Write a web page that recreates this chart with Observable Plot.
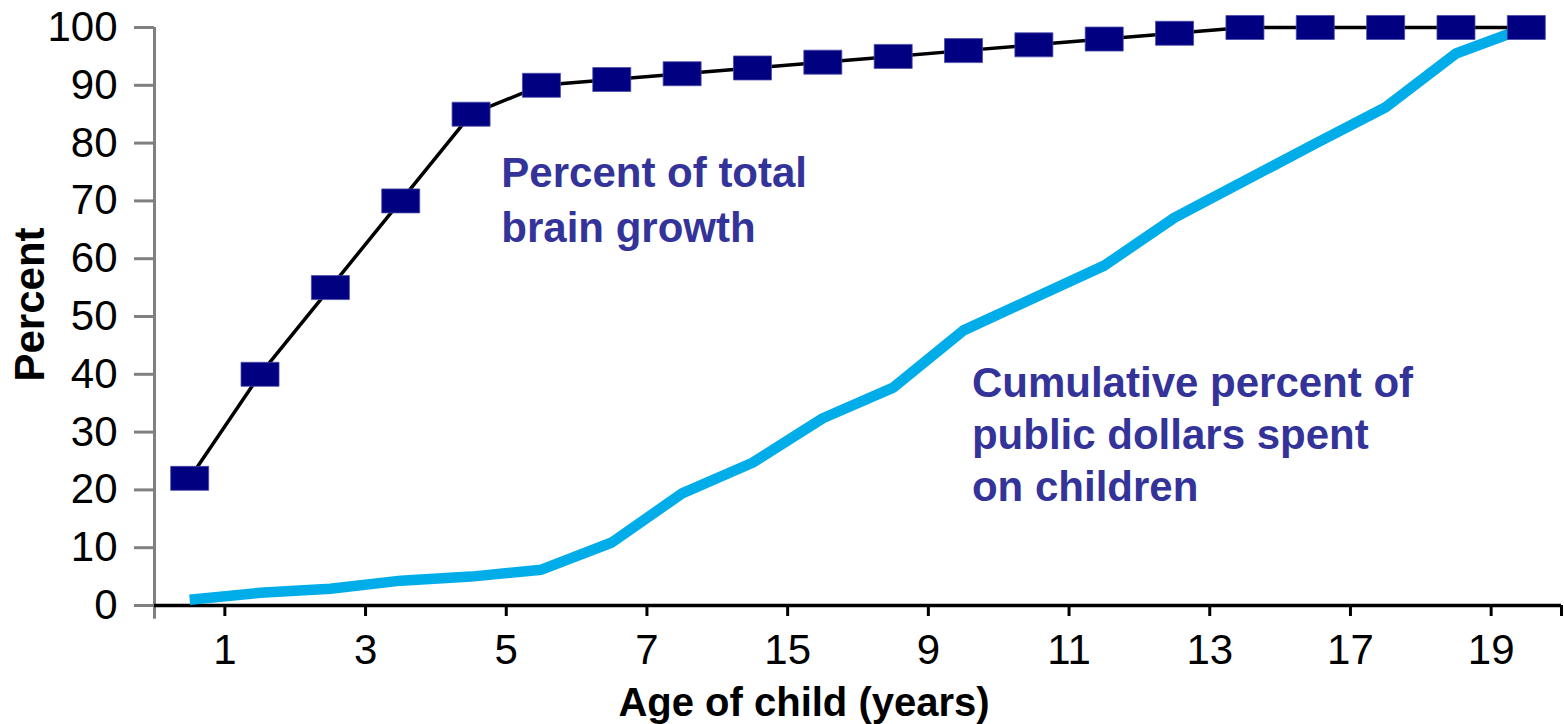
<!DOCTYPE html>
<html>
<head>
<meta charset="utf-8">
<script src="https://cdn.jsdelivr.net/npm/d3@7"></script>
<script src="https://cdn.jsdelivr.net/npm/@observablehq/plot@0.6"></script>
<style>
  html, body { margin: 0; padding: 0; background: #fff; }
  #chart svg { display: block; }
</style>
</head>
<body>
<div id="chart"></div>
<script>
// Category index of each plotted age group (20 groups)
const ageIndex = [1, 2, 3, 4, 5, 6, 7, 8, 9, 10, 11, 12, 13, 14, 15, 16, 17, 18, 19, 20];
// Percent of total brain growth
const brainGrowth = [22, 40, 55, 70, 85, 90, 91, 92, 93, 94, 95, 96, 97, 98, 99, 100, 100, 100, 100, 100];
// Cumulative percent of public dollars spent on children
const publicDollars = [1.0, 2.2, 2.9, 4.3, 5.0, 6.2, 10.9, 19.4, 24.7, 32.4, 37.7, 47.6, 53.2, 58.8, 67.1, 73.5, 79.9, 86.2, 95.5, 100];
// x-axis tick labels as printed on the original chart (at every second category boundary)
const xTickLabels = ["1", "3", "5", "7", "15", "9", "11", "13", "17", "19", ""];
const xTickBoundaries = [1, 3, 5, 7, 9, 11, 13, 15, 17, 19, 20];
const yTicks = [0, 10, 20, 30, 40, 50, 60, 70, 80, 90, 100];

const brainData = ageIndex.map((a, i) => ({x: a - 0.5, y: brainGrowth[i]}));
const dollarData = ageIndex.map((a, i) => ({x: a - 0.5, y: publicDollars[i]}));

const rectSymbol = {draw(ctx) { ctx.rect(-19, -12, 38, 24); }};
const annColor = "#333399";
const font = "'Liberation Sans', Arial, Helvetica, sans-serif";

const chart = Plot.plot({
  width: 1564,
  height: 724,
  marginLeft: 154,
  marginRight: 3,
  marginTop: 27,
  marginBottom: 119,
  style: {fontFamily: font, fontSize: "42px", color: "black", background: "white", overflow: "visible"},
  x: {domain: [0, 20]},
  y: {domain: [0, 100]},
  marks: [
    // y axis (grey) and x axis line (black)
    Plot.ruleX([0], {y1: -2.4, y2: 100, stroke: "#808080", strokeWidth: 3}),
    Plot.axisY({ticks: yTicks, tickSize: 20, tickPadding: 17, stroke: "#808080", strokeWidth: 3, fill: "black", label: null}),
    Plot.axisX({ticks: xTickBoundaries, tickFormat: (d, i) => xTickLabels[i], tickSize: 11, tickPadding: 18, stroke: "black", strokeWidth: 3, fill: "black", label: null}),
    Plot.ruleY([0], {stroke: "black", strokeWidth: 3.5}),
    // series
    Plot.line(dollarData, {x: "x", y: "y", stroke: "#00ADE8", strokeWidth: 10.5, strokeLinejoin: "miter", strokeLinecap: "butt"}),
    Plot.line(brainData, {x: "x", y: "y", stroke: "black", strokeWidth: 3.5}),
    Plot.dot(brainData, {x: "x", y: "y", symbol: rectSymbol, fill: "#000080", stroke: "#4a4aa8", strokeWidth: 0.8}),
    // annotations
    Plot.text(["Percent of total\nbrain growth"], {x: 4.93, y: 79.1, text: d => d, textAnchor: "start", lineAnchor: "top", lineHeight: 1.3, fill: annColor, fontWeight: "bold", fontSize: 42, fontFamily: font}),
    Plot.text(["Cumulative percent of\npublic dollars spent\non children"], {x: 11.62, y: 42.5, text: d => d, textAnchor: "start", lineAnchor: "top", lineHeight: 1.24, fill: annColor, fontWeight: "bold", fontSize: 42, fontFamily: font}),
    // axis titles
    Plot.text(["Age of child (years)"], {frameAnchor: "bottom", dx: -54, dy: 110, text: d => d, textAnchor: "middle", lineAnchor: "bottom", fill: "black", fontWeight: "bold", fontSize: 40, fontFamily: font}),
    Plot.text(["Percent"], {frameAnchor: "left", dx: -124, dy: -12, rotate: -90, text: d => d, textAnchor: "middle", lineAnchor: "middle", fill: "black", fontWeight: "bold", fontSize: 42, fontFamily: font})
  ]
});
document.getElementById("chart").appendChild(chart);
</script>
</body>
</html>
